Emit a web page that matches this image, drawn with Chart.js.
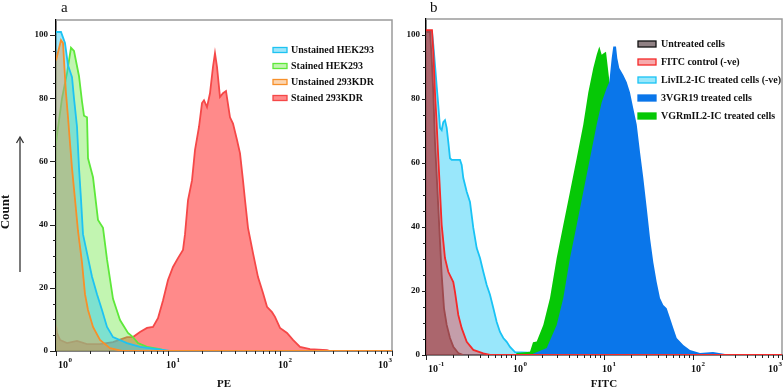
<!DOCTYPE html>
<html>
<head>
<meta charset="utf-8">
<script src="https://cdn.jsdelivr.net/npm/chart.js@4.4.0/dist/chart.umd.min.js"></script>
<style>
  html, body { margin: 0; padding: 0; background: #fff; }
  #wrap { position: relative; width: 783px; height: 389px; }
  #chartA { position: absolute; left: 0; top: 0; }
  #chartB { position: absolute; left: 395px; top: 0; }
</style>
</head>
<body>
<div id="wrap">
  <canvas id="chartA" width="395" height="389"></canvas>
  <canvas id="chartB" width="388" height="389"></canvas>
</div>
<script>
// tick labels
const countTicks = [0, 20, 40, 60, 80, 100]
const peExponents = [0, 1, 2, 3]
const fitcExponents = [-1, 0, 1, 2, 3]

// panel a - PE
const unstainedHekX = [1.0, 1.108, 1.203, 1.28, 1.39, 1.448, 1.54, 1.605, 1.672, 1.742, 1.892, 2.097, 2.323, 2.574, 2.854, 3.228, 4.305, 5.623, 7.97, 10.4]
const unstainedHekY = [101, 101, 97.5, 90.5, 86.7, 80, 71, 58, 48, 37, 31, 23.5, 18, 13, 7.6, 4.4, 2.5, 1.3, 0.6, 0]

const stainedHekX = [1.0, 1.131, 1.254, 1.361, 1.448, 1.605, 1.707, 1.778, 1.892, 1.931, 2.14, 2.371, 2.628, 2.854, 3.228, 3.728, 4.394, 4.87, 5.395, 6.494, 8.483, 9.795]
const stainedHekY = [66, 80, 88, 96, 95, 87, 79, 74.5, 74, 61, 55, 41.5, 39, 29, 16.5, 9.8, 5.7, 4.4, 2.5, 1.3, 0.6, 0]

const unstainedKdrX = [1.0, 1.108, 1.155, 1.179, 1.228, 1.28, 1.334, 1.389, 1.478, 1.572, 1.707, 1.815, 1.931, 2.14, 2.471, 3.035, 3.885, 1000]
const unstainedKdrY = [92, 98.4, 97.5, 92, 81.6, 74, 65.8, 58, 48, 38, 28, 18, 13, 7.6, 3.5, 0.9, 0, 0]

const stainedKdrX = [1.0, 1.021, 1.086, 1.254, 1.54, 1.891, 2.471, 3.228, 4.305, 4.87,
  5.623, 6.494, 7.346, 8.14, 9.023, 10, 11.08, 12.28, 13.61, 14.19,
  15.09, 16.38, 17.42, 18.92, 20.12, 20.96, 22.29, 23.71, 25.22, 26.27,
  27.38, 29.12, 30.98, 32.95, 35.78, 38.05, 41.32, 43.96, 46.73, 48.7,
  51.8, 57.41, 63.62, 70.51, 76.55, 84.84, 90.23, 100, 115.5, 130.6,
  150.9, 185.3, 262.8, 279.6]
const stainedKdrY = [8, 5.7, 3.5, 2.5, 3.2, 2.2, 2.2, 2.8, 4.4, 4.4,
  6, 7.3, 7.6, 10.4, 16, 22.5, 26.6, 29.4, 32, 37,
  47.8, 54, 63.6, 71, 78.5, 79.4, 77.2, 81.6, 90, 94.3,
  90, 80.4, 81.6, 82.3, 74, 72, 66.8, 62.6, 54, 47.8,
  39, 31, 23.4, 18.4, 14, 12.3, 10.8, 7.3, 5.7, 3.5,
  1.3, 0.6, 0.3, 0]

// panel b - FITC
const untreatedX = [0.1, 0.1109, 0.1159, 0.1208, 0.1262, 0.1319, 0.1375, 0.1437, 0.1501, 0.1593, 0.1708, 0.186, 0.2026, 0.2306, 0.2625]
const untreatedY = [101, 101, 92.7, 82, 66.5, 56, 46, 35.3, 25, 14.6, 9.4, 5.3, 2.6, 0.6, 0]

const fitcCtrlX = [0.1, 0.1168, 0.1208, 0.1262, 0.1319, 0.1375, 0.1437, 0.1501, 0.1634, 0.178, 0.2026, 0.2117, 0.2306, 0.2518, 0.2867, 0.34, 0.4403, 0.5237, 1000]
const fitcCtrlY = [101.5, 101.5, 94.8, 82, 72, 61.5, 51, 40.6, 30.3, 26, 22.8, 19.7, 12.5, 8.4, 4.1, 1.6, 0.5, 0, 0]

const livX = [0.1, 0.1168, 0.1208, 0.1262, 0.1319, 0.1375, 0.1437, 0.1501, 0.1564, 0.1634,
  0.1708, 0.178, 0.186, 0.1944, 0.2213, 0.241, 0.2518, 0.2625, 0.2867, 0.3121,
  0.34, 0.3712, 0.4043, 0.4403, 0.4808, 0.5237, 0.5705, 0.6227, 0.6782, 0.7387,
  0.8067, 0.8787, 1.0, 2.289, 2.474]
const livY = [101, 101, 97, 90.6, 84, 78, 71, 70.3, 72.8, 73.4,
  71, 66.6, 61.5, 61, 61, 61, 59.4, 55.3, 51, 47.8,
  39.7, 33.4, 30.3, 26, 21.9, 18.8, 14.7, 10.3, 7.2, 5.3,
  4.1, 2.5, 0.9, 0.5, 0]

const vgr19X = [1.474, 2.271, 2.941, 3.488, 4.15, 4.935, 5.854, 6.96, 8.279, 9.423,
  10.72, 11.47, 12.2, 12.72, 13.64, 14.11, 14.85, 16.48, 17.99, 19.6,
  21.35, 23.31, 25.38, 27.65, 30.19, 32.88, 35.81, 39.09, 42.58, 46.38,
  50.64, 55.15, 60.07, 65.61, 77.82, 92.54, 119.9, 167.8, 228.8, 260.4]
const vgr19Y = [0, 2.2, 9.4, 17.8, 30.3, 40.6, 51, 61.5, 72, 79,
  83.4, 85.3, 92.7, 96.4, 96.4, 92.7, 89.7, 87.5, 85.3, 82,
  77, 72, 63.4, 55.3, 46, 36.6, 29, 22.8, 17.8, 15.6,
  14.6, 11.6, 8.4, 5.3, 3.1, 1.6, 0.6, 0.9, 0.3, 0]

const vgrmX = [1.0, 1.045, 1.474, 1.593, 1.753, 2.08, 2.474, 2.941, 3.488, 4.15, 4.935, 5.854, 6.66, 7.582, 8.279, 8.855, 9.423, 10.0, 10.53, 11.18, 11.68, 13.29, 17.22, 25.38, 42.58, 71.44]
const vgrmY = [0, 0.6, 1.0, 4, 4.2, 9.4, 17.8, 30.3, 40.6, 51, 61.5, 72, 82, 89.7, 93.8, 96.4, 93.8, 94.4, 94.8, 88.5, 84, 70, 50, 25, 8, 0]

const serif = '"Liberation Serif", "Times New Roman", serif'
const pts = (xs, ys) => xs.map((x, i) => ({ x, y: ys[i] }))

function line(ctx, x1, y1, x2, y2) {
    ctx.beginPath()
    ctx.moveTo(x1, y1)
    ctx.lineTo(x2, y2)
    ctx.stroke()
}

// frame, ticks, legend and labels
const panelDeco = {
    id: 'panelDeco',
    beforeDatasetsDraw(chart, args, o) {
        const { ctx, chartArea: a } = chart
        ctx.save()
        ctx.strokeStyle = '#9b9b9b'
        ctx.lineWidth = 1.5
        ctx.beginPath()
        ctx.moveTo(a.left, a.top)
        ctx.lineTo(a.right, a.top)
        ctx.lineTo(a.right, a.bottom)
        ctx.stroke()
        ctx.restore()
    },
    afterDraw(chart, args, o) {
        const { ctx, chartArea: a, scales: { x, y } } = chart
        ctx.save()
        ctx.strokeStyle = '#222'
        ctx.lineWidth = 1

        // y tick marks, minor every 5
        for (let v = 0; v <= countTicks[countTicks.length - 1]; v += 5) {
            const py = Math.round(y.getPixelForValue(v)) + 0.5
            const len = countTicks.includes(v) ? o.tickLen : 3
            line(ctx, a.left - len, py, a.left, py)
        }

        // x ticks + 10^n labels
        o.exponents.forEach(e => {
            const base = Math.pow(10, e)
            for (let m = 1; m <= 9; m++) {
                const v = m * base
                if (v > x.max * 1.0001) break
                const px = Math.round(x.getPixelForValue(v)) + 0.5
                line(ctx, px, a.bottom, px, a.bottom + (m === 1 ? 5 : 3))
            }
            ctx.fillStyle = '#111'
            ctx.textBaseline = 'alphabetic'
            ctx.textAlign = 'left'
            ctx.font = 'bold 10px ' + serif
            const w1 = ctx.measureText('10').width
            ctx.font = 'bold 7px ' + serif
            const w2 = ctx.measureText(String(e)).width
            let lx = x.getPixelForValue(base) - 2
            lx = Math.max(lx, a.left + 2)
            lx = Math.min(lx, a.right - w1 - w2 - 0.5)
            ctx.font = 'bold 10px ' + serif
            ctx.fillText('10', lx, a.bottom + 17)
            ctx.font = 'bold 7px ' + serif
            ctx.fillText(String(e), lx + w1 + 0.5, a.bottom + 11)
        })

        // axis title
        ctx.font = 'bold 11px ' + serif
        ctx.textAlign = 'center'
        ctx.fillStyle = '#111'
        ctx.fillText(o.title, (a.left + a.right) / 2, 387)

        // panel letter
        ctx.font = '15px ' + serif
        ctx.textAlign = 'left'
        ctx.fillText(o.letter, o.letterX, 12)

        // legend
        const L = o.legend
        chart.data.datasets.forEach((ds, i) => {
            const cy = L.y + i * L.rowH
            ctx.fillStyle = ds.backgroundColor
            ctx.fillRect(L.x, cy - L.boxH / 2, L.boxW, L.boxH)
            ctx.strokeStyle = ds.legendBorder || ds.borderColor
            ctx.lineWidth = 1.3
            ctx.strokeRect(L.x, cy - L.boxH / 2, L.boxW, L.boxH)
            ctx.fillStyle = '#111'
            ctx.font = 'bold 10px ' + serif
            ctx.textBaseline = 'middle'
            ctx.fillText(ds.label, L.textX, cy)
        })

        // Count + arrow
        if (o.countLabel) {
            ctx.save()
            ctx.translate(6, 212)
            ctx.rotate(-Math.PI / 2)
            ctx.font = 'bold 13px ' + serif
            ctx.textAlign = 'center'
            ctx.textBaseline = 'middle'
            ctx.fillStyle = '#111'
            ctx.fillText('Count', 0, 0)
            ctx.restore()
            ctx.strokeStyle = '#333'
            ctx.lineWidth = 1.3
            line(ctx, 20, 272, 20, 138)
            ctx.beginPath()
            ctx.moveTo(16.5, 143)
            ctx.lineTo(20, 137)
            ctx.lineTo(23.5, 143)
            ctx.stroke()
        }
        ctx.restore()
    }
}

function series(label, xs, ys, stroke, fill, order, extra) {
    return Object.assign({
        label,
        data: pts(xs, ys),
        borderColor: stroke,
        backgroundColor: fill,
        borderWidth: 1.8,
        fill: 'origin',
        tension: 0,
        pointRadius: 0,
        pointHoverRadius: 0,
        order
    }, extra || {})
}

function makeOptions(xMin, yMax, leftW, bottomH, pad, deco) {
    return {
        responsive: false,
        animation: false,
        layout: { padding: pad },
        plugins: {
            legend: { display: false },
            tooltip: { enabled: false },
            panelDeco: deco
        },
        scales: {
            x: {
                type: 'logarithmic',
                min: xMin,
                max: 1000,
                grid: { display: false, drawTicks: false },
                border: { display: true, color: '#000', width: 1.5 },
                ticks: { display: false },
                afterFit: s => { s.height = bottomH }
            },
            y: {
                min: 0,
                max: yMax,
                grid: { display: false, drawTicks: false },
                border: { display: true, color: '#000', width: 1.5 },
                afterBuildTicks: s => { s.ticks = countTicks.map(v => ({ value: v })) },
                ticks: {
                    padding: deco.tickLen + 2,
                    color: '#111',
                    font: { family: serif, weight: 'bold', size: 9 }
                },
                afterFit: s => { s.width = leftW }
            }
        }
    }
}

// panel a
new Chart(document.getElementById('chartA'), {
    type: 'line',
    data: {
        datasets: [
            series('Unstained HEK293', unstainedHekX, unstainedHekY, '#1ec3f2', 'rgba(40,200,245,0.45)', 1),
            series('Stained HEK293', stainedHekX, stainedHekY, '#5ee83a', 'rgba(110,230,70,0.42)', 2),
            series('Unstained 293KDR', unstainedKdrX, unstainedKdrY, '#f7902a', 'rgba(245,150,60,0.4)', 0),
            series('Stained 293KDR', stainedKdrX, stainedKdrY, '#f54848', 'rgba(255,60,60,0.6)', 3)
        ]
    },
    options: makeOptions(1, 104.8, 56, 38, { top: 20, right: 3, left: 0, bottom: 0 }, {
        letter: 'a', letterX: 61, title: 'PE', countLabel: true, tickLen: 6,
        exponents: peExponents,
        legend: { x: 273, y: 50, rowH: 16, boxW: 14, boxH: 5, textX: 291 }
    }),
    plugins: [panelDeco]
})

// panel b
new Chart(document.getElementById('chartB'), {
    type: 'line',
    data: {
        datasets: [
            series('Untreated cells', untreatedX, untreatedY, '#4a3c40', 'rgba(70,45,50,0.6)', 1, { legendBorder: '#111' }),
            series('FITC control (-ve)', fitcCtrlX, fitcCtrlY, '#f42a2a', 'rgba(240,85,90,0.5)', 0),
            series('LivIL2-IC treated cells (-ve)', livX, livY, '#19c3f5', 'rgba(0,195,245,0.4)', 4),
            series('3VGR19 treated cells', vgr19X, vgr19Y, '#0a76ea', '#0a76ea', 2, { borderWidth: 0 }),
            series('VGRmIL2-IC treated cells', vgrmX, vgrmY, '#06c806', '#06c806', 3, { borderWidth: 0 })
        ]
    },
    options: makeOptions(0.1, 105, 31, 34, { top: 19, right: 1, left: 0, bottom: 0 }, {
        letter: 'b', letterX: 35, title: 'FITC', countLabel: false, tickLen: 4,
        exponents: fitcExponents,
        legend: { x: 243, y: 44, rowH: 18, boxW: 18, boxH: 6, textX: 266 }
    }),
    plugins: [panelDeco]
})
</script>
</body>
</html>
